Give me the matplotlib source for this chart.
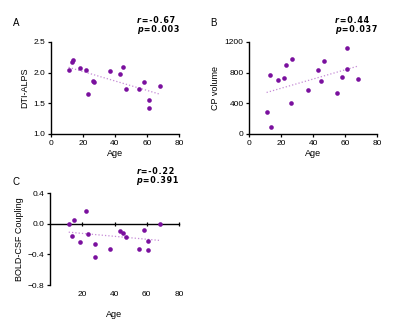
import matplotlib.pyplot as plt
import numpy as np

plt.rcParams['font.family'] = ['Liberation Sans', 'DejaVu Sans']

age = [11, 13, 14, 18, 22, 23, 26, 27, 37, 43, 45, 47, 55, 58, 61, 61, 68]
dti_alps = [2.05, 2.17, 2.20, 2.08, 2.04, 1.65, 1.87, 1.84, 2.02, 1.98, 2.09,
            1.74, 1.74, 1.85, 1.56, 1.43, 1.78]
cp_volume = [288, 772, 92, 702, 733, 894, 406, 982, 576, 829, 694, 947, 532,
             746, 1117, 842, 720]
bold_csf = [0.0, -0.16, 0.05, -0.24, 0.16, -0.13, -0.26, -0.43, -0.33, -0.10,
            -0.12, -0.18, -0.33, -0.08, -0.23, -0.34, 0.0]
ages_c = [11.6, 13.5, 14.7, 18.7, 22.4, 23.4, 27.6, 27.6, 37.3, 43.2, 45.2,
          47.1, 55, 58.1, 60.8, 61, 68]

stats = {'A': ('-0.67', '0.003'), 'B': ('0.44', '0.037'), 'C': ('-0.22', '0.391')}

dot = '#7a109e'
fitc = '#c58bd6'

fig = plt.figure(figsize=(4, 3.23), dpi=100)
W, H = 400, 323


def make_ax(x0, x1, y0, y1):
    return fig.add_axes([x0 / W, 1 - y1 / H, (x1 - x0) / W, (y1 - y0) / H])


def style(ax):
    for s in ['top', 'right']:
        ax.spines[s].set_visible(False)
    for s in ['left', 'bottom']:
        ax.spines[s].set_linewidth(1.0)
    ax.tick_params(labelsize=6, length=2.5, width=0.9, pad=1.5)


def spaced(s):
    return '\u200a'.join(s)


def stat_line(ax, y, letter, rest):
    kw = dict(fontsize=5.8, fontweight='bold', family='DejaVu Sans')
    t = ax.text(0.67, y, letter, transform=ax.transAxes, style='italic',
                va='bottom', **kw)
    ax.annotate('\u200a' + spaced(rest), xy=(1, 0), xycoords=t,
                va='bottom', ha='left', **kw)


def draw(ax, x, y, letter):
    ax.scatter(x, y, s=11, color=dot, zorder=3, linewidths=0)
    k, b = np.polyfit(x, y, 1)
    xs = np.array([min(x), max(x)])
    ax.plot(xs, k * xs + b, ':', color=fitc, lw=0.9, zorder=2)
    r, p = stats[letter]
    stat_line(ax, 1.185, 'r', '=' + r)
    stat_line(ax, 1.09, 'p', '=' + p)


# A
axA = make_ax(51, 179, 42, 134)
style(axA)
draw(axA, age, dti_alps, 'A')
axA.set_xlim(0, 80)
axA.set_ylim(1.0, 2.5)
axA.set_xticks([0, 20, 40, 60, 80])
axA.set_yticks([1.0, 1.5, 2.0, 2.5])
axA.set_xlabel('Age', fontsize=6.5, labelpad=2)
axA.set_ylabel('DTI-ALPS', fontsize=6.5, labelpad=3)
fig.text(16 / W, 1 - 23 / H, 'A', fontsize=7, va='center', ha='center')

# B
axB = make_ax(249, 377, 42, 134)
style(axB)
draw(axB, age, cp_volume, 'B')
axB.set_xlim(0, 80)
axB.set_ylim(0, 1200)
axB.set_xticks([0, 20, 40, 60, 80])
axB.set_yticks([0, 400, 800, 1200])
axB.set_xlabel('Age', fontsize=6.5, labelpad=2)
axB.set_ylabel('CP volume', fontsize=6.5, labelpad=3)
fig.text(213 / W, 1 - 23 / H, 'B', fontsize=7, va='center', ha='center')

# C
axC = make_ax(50, 179, 193, 285)
style(axC)
draw(axC, ages_c, bold_csf, 'C')
axC.set_xlim(0, 80)
axC.set_ylim(-0.8, 0.4)
axC.set_yticks([-0.8, -0.4, 0.0, 0.4])
axC.set_xticks([20, 40, 60, 80])
axC.spines['bottom'].set_position(('data', 0))
axC.tick_params(axis='x', labelbottom=False, direction='inout', length=3)
sec = axC.secondary_xaxis('bottom')
sec.set_xticks([20, 40, 60, 80])
sec.spines['bottom'].set_visible(False)
sec.tick_params(labelsize=6, length=0, pad=4)
sec.set_xlabel('Age', fontsize=6.5, labelpad=9)
axC.set_ylabel('BOLD-CSF Coupling', fontsize=6.5, labelpad=3)
fig.text(16 / W, 1 - 182 / H, 'C', fontsize=7, va='center', ha='center')

fig.savefig('out.png', dpi=100)
